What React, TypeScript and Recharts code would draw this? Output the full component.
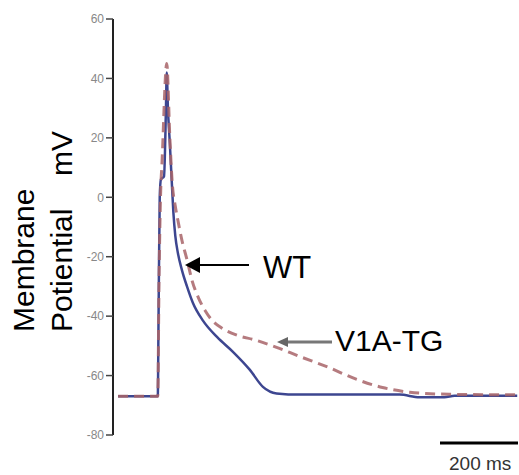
import React from 'react';
import { LineChart, Line, XAxis, YAxis } from 'recharts';

// time in ms from the y axis, membrane potential in mV
const wtTime = [13, 115, 117, 120, 123, 131, 136, 138, 141, 146, 151, 155, 160, 167, 177, 190, 205, 231, 267, 308, 351, 385, 420, 480, 736, 787, 851, 877, 1038];
const wtMv = [-67, -67, -40, 0, 6, 7, 30, 42, 30, 18, 5, -5, -13, -19, -24.5, -30, -35.5, -41.5, -47, -52, -58, -63.8, -66, -66.4, -66.4, -67.3, -67.3, -66.8, -66.8];

const tgTime = [13, 115, 118, 122, 126, 138, 146, 152, 160, 167, 177, 190, 203, 220, 236, 255, 279, 320, 364, 420, 480, 549, 626, 692, 762, 864, 1038];
const tgMv = [-67, -67, -30, 0, 12, 45, 20, 5, -3, -8, -14.5, -21, -28, -34, -38, -41.5, -44, -46.5, -48, -50.5, -53.6, -57, -61.3, -64, -65.6, -66.3, -66.5];

const yTicks = [-80, -60, -40, -20, 0, 20, 40, 60];

const wtData = wtTime.map((t, i) => ({ t, v: wtMv[i] }));
const tgData = tgTime.map((t, i) => ({ t, v: tgMv[i] }));

const FONT = 'Liberation Sans, Arial, sans-serif';

export default function App() {
  return (
    <div style={{ position: 'absolute', left: 0, top: 0, width: 519, height: 475, background: '#fff' }}>
      <LineChart width={519} height={475} margin={{ top: 19, right: 1, bottom: 40, left: 0 }}>
        <XAxis dataKey='t' type='number' domain={[0, 1040]} hide />
        <YAxis
          type='number'
          domain={[-80, 60]}
          ticks={yTicks}
          width={113}
          tickSize={7}
          axisLine={{ stroke: '#222', strokeWidth: 2 }}
          tickLine={{ stroke: '#444', strokeWidth: 1.5 }}
          tick={{ fill: '#888', fontSize: 12, fontFamily: FONT }}
        />
        <Line
          data={wtData}
          dataKey='v'
          type='monotone'
          stroke='#3d4690'
          strokeWidth={2.5}
          dot={false}
          isAnimationActive={false}
        />
        <Line
          data={tgData}
          dataKey='v'
          type='monotone'
          stroke='#a86468'
          strokeWidth={3}
          strokeDasharray='10 6'
          strokeOpacity={0.85}
          dot={false}
          isAnimationActive={false}
        />
      </LineChart>
      <svg width={519} height={475} style={{ position: 'absolute', left: 0, top: 0, pointerEvents: 'none' }}>
        {/* WT arrow */}
        <line x1={249} y1={265} x2={198} y2={265} stroke='#000' strokeWidth={2} />
        <path d='M185,265 L200,257 L200,273 z' fill='#000' />
        <text x={263} y={278} fontFamily={FONT} fontSize={31} fill='#000'>WT</text>
        {/* V1A-TG arrow */}
        <line x1={332} y1={342} x2={286} y2={342} stroke='#777' strokeWidth={3} />
        <path d='M277,342 L288,337 L288,347 z' fill='#666' />
        <text x={335} y={351} fontFamily={FONT} fontSize={30} fill='#000'>V1A-TG</text>
        {/* y label */}
        <text transform='translate(34,332) rotate(-90)' fontFamily={FONT} fontSize={30} fill='#000'>Membrane</text>
        <text transform='translate(72,332) rotate(-90)' fontFamily={FONT} fontSize={30} fill='#000'>Potiential</text>
        <text transform='translate(72,176) rotate(-90)' fontFamily={FONT} fontSize={30} fill='#000'>mV</text>
        {/* scale bar */}
        <line x1={440} y1={443} x2={518} y2={443} stroke='#000' strokeWidth={3} />
        <text x={449} y={470} fontFamily={FONT} fontSize={19} fill='#333'>200 ms</text>
      </svg>
    </div>
  );
}
